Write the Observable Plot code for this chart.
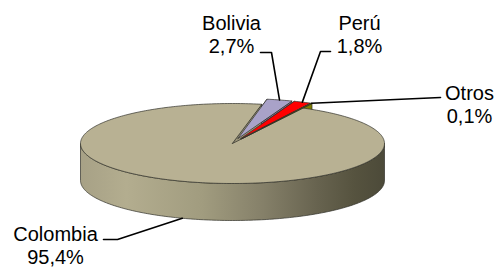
<!DOCTYPE html>
<html>
<head>
<meta charset="utf-8">
<script src="https://cdn.jsdelivr.net/npm/d3@7"></script>
<script src="https://cdn.jsdelivr.net/npm/@observablehq/plot@0.6"></script>
<style>
  html, body { margin: 0; padding: 0; background: #fff; }
  #chart svg { display: block; }
</style>
</head>
<body>
<div id="chart"></div>
<script>
// ---- data ----
const categories = ["Bolivia", "Perú", "Otros", "Colombia"];
const values = [2.7, 1.8, 0.1, 95.4];
const pctLabels = ["2,7%", "1,8%", "0,1%", "95,4%"];
const topColors = ["#a9a2c8", "#ff0000", "#b8b800", "#b8b193"];
const wallColors = ["#7e7898", "#b00000", "#7f7f00", "#9d977c"];
const exploded = [1, 1, 1, 0];

// ---- layout ----
const W = 497, H = 267;
const cx = 232, cy = 143, rx = 152, ry = 40, depth = 37;
const startAngle = 11;      // degrees, clockwise from back (12 o'clock)
const explode = 20;         // radial offset in units of rx pixels
const labelPos = [ // [x center, first baseline]
  [231, 28], [359, 28], [469, 98], [55, 239]
];
const labelElbows = [
  [[260, 52], [271, 52]],
  [[330, 51], [320, 51]],
  [[440, 97]],
  [[103, 239], [117, 239]]
];

const rad = d => d * Math.PI / 180;
const total = d3.sum(values);
let acc = startAngle;
const slices = categories.map((c, i) => {
  const a0 = acc, a1 = acc + values[i] / total * 360;
  acc = a1;
  const mid = (a0 + a1) / 2;
  const e = exploded[i] ? explode : 0;
  const ox = e * Math.sin(rad(mid)), oy = -e * Math.cos(rad(mid)) * ry / rx;
  return {c, i, a0, a1, mid, ox, oy};
});
const px = (s, a, r = 1, dz = 0) => [cx + s.ox + rx * r * Math.sin(rad(a)), cy + s.oy - ry * r * Math.cos(rad(a)) + dz];

function arc(s, a0, a1, dz = 0) {
  const n = Math.max(2, Math.ceil((a1 - a0) / 1));
  return d3.range(n + 1).map(k => px(s, a0 + (a1 - a0) * k / n, 1, dz));
}
function topFace(s) { return [px(s, 0, 0), ...arc(s, s.a0, s.a1)]; }
function radialWall(s, a) { return [px(s, 0, 0), px(s, a), px(s, a, 1, depth), px(s, 0, 0, depth)]; }
function outerWall(s) {
  const lo = Math.max(s.a0, 90), hi = Math.min(s.a1, 270);
  if (hi <= lo) return null;
  return [...arc(s, lo, hi), ...arc(s, lo, hi, depth).reverse()];
}

const rows = (polys) => polys.flatMap(({id, pts, fill}) => pts.map(([x, y]) => ({id, x, y, fill})));

const small = slices.filter(s => exploded[s.i]);
const main = slices.filter(s => !exploded[s.i]);

const smallWalls = rows(small.flatMap(s => {
  const out = [
    {id: s.c + "w0", pts: radialWall(s, s.a0), fill: wallColors[s.i]},
    {id: s.c + "w1", pts: radialWall(s, s.a1), fill: wallColors[s.i]}
  ];
  const ow = outerWall(s);
  if (ow) out.push({id: s.c + "wo", pts: ow, fill: wallColors[s.i]});
  return out;
}));
const mainOuter = rows(main.map(s => ({id: s.c + "wo", pts: outerWall(s), fill: "url(#sideGrad)"})));
const mainRadial = rows(main.map(s => ({id: s.c + "w1", pts: radialWall(s, s.a1), fill: wallColors[s.i]})));
const mainTop = rows(main.map(s => ({id: s.c + "t", pts: topFace(s), fill: topColors[s.i]})));
const smallTop = rows(small.map(s => ({id: s.c + "t", pts: topFace(s), fill: topColors[s.i]})));

// leader lines
const leaders = slices.flatMap(s => {
  const end = exploded[s.i] ? px(s, s.mid) : px(s, s.mid, 1, depth);
  return [...labelElbows[s.i], end].map(([x, y]) => ({id: s.c, x, y}));
});
const labels = slices.map(s => ({x: labelPos[s.i][0], y: labelPos[s.i][1] - 14.2, text: s.c + "\n" + pctLabels[s.i]}));

const poly = (data, extra = {}) => Plot.line(data, {x: "x", y: "y", z: "id", fill: "fill", stroke: "#2f2f28", strokeWidth: 0.7, curve: "linear-closed", ...extra});

const chart = Plot.plot({
  width: W, height: H,
  margin: 0,
  x: {type: "identity", axis: null},
  y: {type: "identity", axis: null},
  color: {type: "identity"},
  style: {fontFamily: "Liberation Sans, Arial, sans-serif", background: "#fff"},
  marks: [
    poly(smallWalls),
    poly(mainOuter, {fill: "url(#sideGrad)"}),
    poly(mainRadial),
    poly(mainTop),
    poly(smallTop),
    Plot.line(leaders, {x: "x", y: "y", z: "id", stroke: "#000", strokeWidth: 1.6}),
    Plot.text(labels, {x: "x", y: "y", text: "text", textAnchor: "middle", lineAnchor: "top", lineHeight: 1.12, fontSize: 20, fill: "#000"})
  ]
});

const defs = d3.select(chart).insert("defs", ":first-child");
const g = defs.append("linearGradient").attr("id", "sideGrad").attr("x1", "0").attr("x2", "1").attr("y1", "0").attr("y2", "0");
[[0, "#a7a186"], [0.15, "#b3ad8f"], [0.4, "#a19c7f"], [0.6, "#858069"], [0.78, "#67634f"], [0.9, "#56533f"], [1, "#4c4a39"]]
  .forEach(([o, c]) => g.append("stop").attr("offset", o).attr("stop-color", c));

document.getElementById("chart").appendChild(chart);
</script>
</body>
</html>
